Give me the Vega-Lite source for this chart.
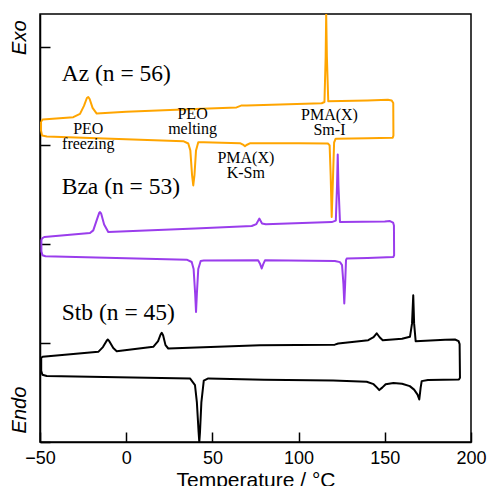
{
  "$schema": "https://vega.github.io/schema/vega-lite/v6.json",
  "width": 431,
  "height": 428,
  "autosize": {"type": "none"},
  "padding": {"left": 40, "top": 14, "right": 16, "bottom": 44},
  "background": "white",
  "config": {
    "view": {"stroke": "black", "strokeWidth": 1.5},
    "axis": {"grid": false, "domainColor": "black", "domainWidth": 1.5, "tickColor": "black", "tickWidth": 1.5, "labelColor": "black", "titleColor": "black"}
  },
  "datasets": {
    "dsc": [
      {"s": "Az", "i": 1, "T": -49.4, "v": 3.24},
      {"s": "Az", "i": 2, "T": -48.5, "v": 3.262},
      {"s": "Az", "i": 3, "T": -30.7, "v": 3.286},
      {"s": "Az", "i": 4, "T": -26.8, "v": 3.32},
      {"s": "Az", "i": 5, "T": -24.5, "v": 3.4},
      {"s": "Az", "i": 6, "T": -22.8, "v": 3.48},
      {"s": "Az", "i": 7, "T": -22.0, "v": 3.49},
      {"s": "Az", "i": 8, "T": -21.2, "v": 3.47},
      {"s": "Az", "i": 9, "T": -19.5, "v": 3.38},
      {"s": "Az", "i": 10, "T": -17.1, "v": 3.323},
      {"s": "Az", "i": 11, "T": 0, "v": 3.34},
      {"s": "Az", "i": 12, "T": 40, "v": 3.37},
      {"s": "Az", "i": 13, "T": 64, "v": 3.385},
      {"s": "Az", "i": 14, "T": 67, "v": 3.405},
      {"s": "Az", "i": 15, "T": 70, "v": 3.404},
      {"s": "Az", "i": 16, "T": 113.4, "v": 3.427},
      {"s": "Az", "i": 17, "T": 115.0, "v": 3.44},
      {"s": "Az", "i": 18, "T": 115.7, "v": 3.9},
      {"s": "Az", "i": 19, "T": 116.0, "v": 4.33},
      {"s": "Az", "i": 20, "T": 116.4, "v": 3.9},
      {"s": "Az", "i": 21, "T": 117.2, "v": 3.447},
      {"s": "Az", "i": 22, "T": 140, "v": 3.455},
      {"s": "Az", "i": 23, "T": 151.8, "v": 3.462},
      {"s": "Az", "i": 24, "T": 154.0, "v": 3.455},
      {"s": "Az", "i": 25, "T": 154.9, "v": 3.43},
      {"s": "Az", "i": 26, "T": 155.0, "v": 3.1},
      {"s": "Az", "i": 27, "T": 154.6, "v": 3.078},
      {"s": "Az", "i": 28, "T": 140, "v": 3.072},
      {"s": "Az", "i": 29, "T": 121.5, "v": 3.068},
      {"s": "Az", "i": 30, "T": 120.6, "v": 3.03},
      {"s": "Az", "i": 31, "T": 120.0, "v": 2.7},
      {"s": "Az", "i": 32, "T": 119.2, "v": 2.276},
      {"s": "Az", "i": 33, "T": 118.6, "v": 2.7},
      {"s": "Az", "i": 34, "T": 118.0, "v": 3.0},
      {"s": "Az", "i": 35, "T": 117.0, "v": 3.02},
      {"s": "Az", "i": 36, "T": 100, "v": 3.022},
      {"s": "Az", "i": 37, "T": 72, "v": 3.023},
      {"s": "Az", "i": 38, "T": 69.8, "v": 3.005},
      {"s": "Az", "i": 39, "T": 68.9, "v": 2.993},
      {"s": "Az", "i": 40, "T": 68.0, "v": 3.005},
      {"s": "Az", "i": 41, "T": 66, "v": 3.023},
      {"s": "Az", "i": 42, "T": 45, "v": 3.032},
      {"s": "Az", "i": 43, "T": 41.8, "v": 3.033},
      {"s": "Az", "i": 44, "T": 40.5, "v": 2.95},
      {"s": "Az", "i": 45, "T": 39.6, "v": 2.7},
      {"s": "Az", "i": 46, "T": 38.9, "v": 2.596},
      {"s": "Az", "i": 47, "T": 38.2, "v": 2.7},
      {"s": "Az", "i": 48, "T": 37.2, "v": 2.95},
      {"s": "Az", "i": 49, "T": 36.0, "v": 3.02},
      {"s": "Az", "i": 50, "T": 33.1, "v": 3.043},
      {"s": "Az", "i": 51, "T": -46.0, "v": 3.091},
      {"s": "Az", "i": 52, "T": -48.8, "v": 3.1},
      {"s": "Az", "i": 53, "T": -49.4, "v": 3.15},
      {"s": "Az", "i": 54, "T": -49.4, "v": 3.24},

      {"s": "Bza", "i": 1, "T": -48.8, "v": 2.06},
      {"s": "Bza", "i": 2, "T": -47.5, "v": 2.074},
      {"s": "Bza", "i": 3, "T": -21.0, "v": 2.114},
      {"s": "Bza", "i": 4, "T": -19.1, "v": 2.141},
      {"s": "Bza", "i": 5, "T": -17.0, "v": 2.25},
      {"s": "Bza", "i": 6, "T": -15.6, "v": 2.32},
      {"s": "Bza", "i": 7, "T": -15.2, "v": 2.326},
      {"s": "Bza", "i": 8, "T": -14.5, "v": 2.31},
      {"s": "Bza", "i": 9, "T": -12.8, "v": 2.2},
      {"s": "Bza", "i": 10, "T": -10.4, "v": 2.124},
      {"s": "Bza", "i": 11, "T": 40, "v": 2.16},
      {"s": "Bza", "i": 12, "T": 72.8, "v": 2.185},
      {"s": "Bza", "i": 13, "T": 75.5, "v": 2.205},
      {"s": "Bza", "i": 14, "T": 77.2, "v": 2.26},
      {"s": "Bza", "i": 15, "T": 78.8, "v": 2.21},
      {"s": "Bza", "i": 16, "T": 81, "v": 2.202},
      {"s": "Bza", "i": 17, "T": 119.2, "v": 2.225},
      {"s": "Bza", "i": 18, "T": 121.6, "v": 2.24},
      {"s": "Bza", "i": 19, "T": 122.3, "v": 2.6},
      {"s": "Bza", "i": 20, "T": 122.7, "v": 2.909},
      {"s": "Bza", "i": 21, "T": 123.1, "v": 2.6},
      {"s": "Bza", "i": 22, "T": 124.0, "v": 2.225},
      {"s": "Bza", "i": 23, "T": 150, "v": 2.23},
      {"s": "Bza", "i": 24, "T": 153.0, "v": 2.235},
      {"s": "Bza", "i": 25, "T": 154.8, "v": 2.22},
      {"s": "Bza", "i": 26, "T": 155.3, "v": 2.19},
      {"s": "Bza", "i": 27, "T": 155.4, "v": 1.89},
      {"s": "Bza", "i": 28, "T": 155.0, "v": 1.872},
      {"s": "Bza", "i": 29, "T": 140, "v": 1.862},
      {"s": "Bza", "i": 30, "T": 127.9, "v": 1.856},
      {"s": "Bza", "i": 31, "T": 127.5, "v": 1.84},
      {"s": "Bza", "i": 32, "T": 127.0, "v": 1.6},
      {"s": "Bza", "i": 33, "T": 126.5, "v": 1.401},
      {"s": "Bza", "i": 34, "T": 126.0, "v": 1.6},
      {"s": "Bza", "i": 35, "T": 125.2, "v": 1.79},
      {"s": "Bza", "i": 36, "T": 124.0, "v": 1.82},
      {"s": "Bza", "i": 37, "T": 121, "v": 1.832},
      {"s": "Bza", "i": 38, "T": 80.5, "v": 1.838},
      {"s": "Bza", "i": 39, "T": 79.5, "v": 1.8},
      {"s": "Bza", "i": 40, "T": 78.6, "v": 1.755},
      {"s": "Bza", "i": 41, "T": 77.7, "v": 1.8},
      {"s": "Bza", "i": 42, "T": 76.5, "v": 1.838},
      {"s": "Bza", "i": 43, "T": 45, "v": 1.836},
      {"s": "Bza", "i": 44, "T": 43.2, "v": 1.831},
      {"s": "Bza", "i": 45, "T": 41.8, "v": 1.75},
      {"s": "Bza", "i": 46, "T": 41.0, "v": 1.5},
      {"s": "Bza", "i": 47, "T": 40.5, "v": 1.316},
      {"s": "Bza", "i": 48, "T": 40.0, "v": 1.5},
      {"s": "Bza", "i": 49, "T": 39.1, "v": 1.75},
      {"s": "Bza", "i": 50, "T": 38.0, "v": 1.821},
      {"s": "Bza", "i": 51, "T": 35.1, "v": 1.845},
      {"s": "Bza", "i": 52, "T": -46.8, "v": 1.879},
      {"s": "Bza", "i": 53, "T": -48.6, "v": 1.89},
      {"s": "Bza", "i": 54, "T": -49.2, "v": 1.93},
      {"s": "Bza", "i": 55, "T": -49.2, "v": 2.04},
      {"s": "Bza", "i": 56, "T": -48.8, "v": 2.06},

      {"s": "Stb", "i": 1, "T": -49.3, "v": 0.85},
      {"s": "Stb", "i": 2, "T": -48.5, "v": 0.862},
      {"s": "Stb", "i": 3, "T": -16.2, "v": 0.912},
      {"s": "Stb", "i": 4, "T": -13.5, "v": 0.96},
      {"s": "Stb", "i": 5, "T": -11.5, "v": 1.02},
      {"s": "Stb", "i": 6, "T": -10.7, "v": 1.037},
      {"s": "Stb", "i": 7, "T": -9.8, "v": 1.02},
      {"s": "Stb", "i": 8, "T": -7.5, "v": 0.95},
      {"s": "Stb", "i": 9, "T": -5.5, "v": 0.919},
      {"s": "Stb", "i": 10, "T": 15.7, "v": 0.963},
      {"s": "Stb", "i": 11, "T": 18.5, "v": 1.02},
      {"s": "Stb", "i": 12, "T": 20.0, "v": 1.09},
      {"s": "Stb", "i": 13, "T": 20.6, "v": 1.104},
      {"s": "Stb", "i": 14, "T": 21.4, "v": 1.08},
      {"s": "Stb", "i": 15, "T": 22.8, "v": 0.98},
      {"s": "Stb", "i": 16, "T": 24.4, "v": 0.946},
      {"s": "Stb", "i": 17, "T": 77.6, "v": 0.98},
      {"s": "Stb", "i": 18, "T": 121, "v": 0.985},
      {"s": "Stb", "i": 19, "T": 123.0, "v": 0.997},
      {"s": "Stb", "i": 20, "T": 140.4, "v": 1.03},
      {"s": "Stb", "i": 21, "T": 143.5, "v": 1.06},
      {"s": "Stb", "i": 22, "T": 145.3, "v": 1.1},
      {"s": "Stb", "i": 23, "T": 147.0, "v": 1.06},
      {"s": "Stb", "i": 24, "T": 148.8, "v": 1.03},
      {"s": "Stb", "i": 25, "T": 160, "v": 1.045},
      {"s": "Stb", "i": 26, "T": 164.6, "v": 1.064},
      {"s": "Stb", "i": 27, "T": 165.8, "v": 1.2},
      {"s": "Stb", "i": 28, "T": 166.5, "v": 1.485},
      {"s": "Stb", "i": 29, "T": 167.0, "v": 1.2},
      {"s": "Stb", "i": 30, "T": 167.9, "v": 1.02},
      {"s": "Stb", "i": 31, "T": 185, "v": 1.035},
      {"s": "Stb", "i": 32, "T": 190.7, "v": 1.037},
      {"s": "Stb", "i": 33, "T": 192.8, "v": 1.02},
      {"s": "Stb", "i": 34, "T": 193.4, "v": 0.99},
      {"s": "Stb", "i": 35, "T": 193.6, "v": 0.65},
      {"s": "Stb", "i": 36, "T": 193.0, "v": 0.633},
      {"s": "Stb", "i": 37, "T": 175, "v": 0.628},
      {"s": "Stb", "i": 38, "T": 171.4, "v": 0.616},
      {"s": "Stb", "i": 39, "T": 170.8, "v": 0.55},
      {"s": "Stb", "i": 40, "T": 170.0, "v": 0.431},
      {"s": "Stb", "i": 41, "T": 169.0, "v": 0.48},
      {"s": "Stb", "i": 42, "T": 167.0, "v": 0.53},
      {"s": "Stb", "i": 43, "T": 164.5, "v": 0.565},
      {"s": "Stb", "i": 44, "T": 160, "v": 0.59},
      {"s": "Stb", "i": 45, "T": 155, "v": 0.598},
      {"s": "Stb", "i": 46, "T": 150.5, "v": 0.585},
      {"s": "Stb", "i": 47, "T": 148.5, "v": 0.55},
      {"s": "Stb", "i": 48, "T": 146.8, "v": 0.525},
      {"s": "Stb", "i": 49, "T": 145.5, "v": 0.55},
      {"s": "Stb", "i": 50, "T": 143.5, "v": 0.585},
      {"s": "Stb", "i": 51, "T": 139.5, "v": 0.609},
      {"s": "Stb", "i": 52, "T": 120, "v": 0.622},
      {"s": "Stb", "i": 53, "T": 80, "v": 0.63},
      {"s": "Stb", "i": 54, "T": 47.6, "v": 0.643},
      {"s": "Stb", "i": 55, "T": 45.0, "v": 0.62},
      {"s": "Stb", "i": 56, "T": 43.6, "v": 0.4},
      {"s": "Stb", "i": 57, "T": 42.8, "v": 0.1},
      {"s": "Stb", "i": 58, "T": 42.4, "v": 0.0},
      {"s": "Stb", "i": 59, "T": 42.0, "v": 0.1},
      {"s": "Stb", "i": 60, "T": 41.0, "v": 0.4},
      {"s": "Stb", "i": 61, "T": 39.9, "v": 0.576},
      {"s": "Stb", "i": 62, "T": 37.0, "v": 0.643},
      {"s": "Stb", "i": 63, "T": -46.1, "v": 0.667},
      {"s": "Stb", "i": 64, "T": -48.6, "v": 0.68},
      {"s": "Stb", "i": 65, "T": -49.3, "v": 0.72},
      {"s": "Stb", "i": 66, "T": -49.3, "v": 0.85}
    ],
    "samples": [
      {"label": "Az (n = 56)", "T": -37.4, "v": 3.657},
      {"label": "Bza (n = 53)", "T": -37.4, "v": 2.505},
      {"label": "Stb (n = 45)", "T": -37.4, "v": 1.232}
    ],
    "transitions": [
      {"label": "PEO\nfreezing", "T": -22.0, "v": 3.121},
      {"label": "PEO\nmelting", "T": 38.5, "v": 3.263},
      {"label": "PMA(X)\nK-Sm", "T": 69.4, "v": 2.821},
      {"label": "PMA(X)\nSm-I", "T": 117.9, "v": 3.253}
    ],
    "sides": [
      {"label": "Exo", "T": -50, "v": 4.09},
      {"label": "Endo", "T": -50, "v": 0.323}
    ]
  },
  "layer": [
    {
      "data": {"name": "dsc"},
      "mark": {"type": "line", "strokeWidth": 2, "strokeJoin": "round", "clip": true},
      "encoding": {
        "x": {
          "field": "T", "type": "quantitative",
          "scale": {"domain": [-50, 200], "nice": false, "zero": false},
          "axis": {
            "values": [-50, 0, 50, 100, 150, 200],
            "tickSize": -10,
            "labelFlush": false,
            "labelPadding": 17,
            "labelFont": "Liberation Sans", "labelFontSize": 18,
            "title": "Temperature / °C",
            "titleFont": "Liberation Sans", "titleFontSize": 21, "titleFontWeight": "normal",
            "titlePadding": 2
          }
        },
        "y": {
          "field": "v", "type": "quantitative",
          "scale": {"domain": [0, 4.33], "nice": false, "zero": false},
          "axis": {"values": [0, 1, 2, 3, 4], "tickSize": -10, "labels": false, "title": null}
        },
        "color": {
          "field": "s", "type": "nominal",
          "scale": {"domain": ["Az", "Bza", "Stb"], "range": ["#FFA500", "#9A3DEC", "#000000"]},
          "legend": null
        },
        "order": {"field": "i", "type": "quantitative"}
      }
    },
    {
      "data": {"name": "samples"},
      "mark": {"type": "text", "align": "left", "baseline": "alphabetic", "font": "Liberation Serif", "fontSize": 23.5, "color": "black"},
      "encoding": {
        "x": {"field": "T", "type": "quantitative"},
        "y": {"field": "v", "type": "quantitative"},
        "text": {"field": "label"}
      }
    },
    {
      "data": {"name": "transitions"},
      "mark": {"type": "text", "align": "center", "baseline": "alphabetic", "lineBreak": "\n", "lineHeight": 15, "font": "Liberation Serif", "fontSize": 16, "color": "black"},
      "encoding": {
        "x": {"field": "T", "type": "quantitative"},
        "y": {"field": "v", "type": "quantitative"},
        "text": {"field": "label"}
      }
    },
    {
      "data": {"name": "sides"},
      "mark": {"type": "text", "align": "center", "baseline": "middle", "angle": 270, "dy": -20, "font": "Liberation Sans", "fontStyle": "italic", "fontSize": 20, "color": "black"},
      "encoding": {
        "x": {"field": "T", "type": "quantitative"},
        "y": {"field": "v", "type": "quantitative"},
        "text": {"field": "label"}
      }
    }
  ]
}
